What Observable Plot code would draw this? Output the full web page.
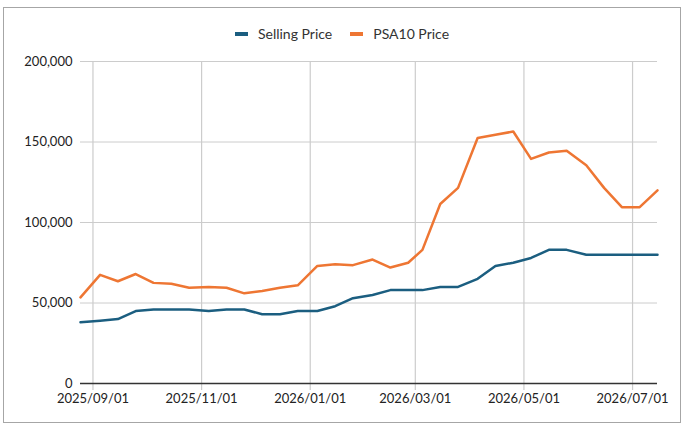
<!DOCTYPE html>
<html>
<head>
<meta charset="utf-8">
<script src="https://cdn.jsdelivr.net/npm/d3@7"></script>
<script src="https://cdn.jsdelivr.net/npm/@observablehq/plot@0.6"></script>
<style>
  html, body { margin: 0; padding: 0; background: #fff; }
  body { width: 684px; height: 427px; position: relative; overflow: hidden; font-family: Lato, "Noto Sans", sans-serif; }
  #frame { position: absolute; left: 3px; top: 7px; width: 678px; height: 416px; border: 1px solid #a6a6a6; box-sizing: border-box; }
  #legend { position: absolute; left: 0; top: 24px; width: 684px; text-align: center; font-size: 14px; color: #333; line-height: 20px; z-index: 2; }
  #legend span.item { display: inline-block; margin: 0 9px; }
  #legend span.sw { display: inline-block; width: 13px; height: 4px; vertical-align: middle; margin-right: 10px; position: relative; top: -1px; }
  #chart { position: absolute; left: 0; top: 0; z-index: 1; }
</style>
</head>
<body>
<div id="frame"></div>
<div id="legend"></div>
<div id="chart"></div>
<script>
const dates = [
  "2025-08-25","2025-09-05","2025-09-15","2025-09-25","2025-10-05","2025-10-15","2025-10-25",
  "2025-11-05","2025-11-15","2025-11-25","2025-12-05","2025-12-15","2025-12-25",
  "2026-01-05","2026-01-15","2026-01-25","2026-02-05","2026-02-15","2026-02-25",
  "2026-03-05","2026-03-15","2026-03-25","2026-04-05","2026-04-15","2026-04-25",
  "2026-05-05","2026-05-15","2026-05-25","2026-06-05","2026-06-15","2026-06-25",
  "2026-07-05","2026-07-15"
];
const sellingPrice = [
  38000, 39000, 40000, 45000, 46000, 46000, 46000,
  45000, 46000, 46000, 43000, 43000, 45000,
  45000, 48000, 53000, 55000, 58000, 58000,
  58000, 60000, 60000, 65000, 73000, 75000,
  78000, 83000, 83000, 80000, 80000, 80000,
  80000, 80000
];
const psa10Price = [
  53500, 67500, 63500, 68000, 62500, 62000, 59500,
  60000, 59500, 56000, 57500, 59500, 61000,
  73000, 74000, 73500, 77000, 72000, 75000,
  83000, 111500, 121500, 152500, 154500, 156500,
  139500, 143500, 144500, 135500, 121500, 109500,
  109500, 120000
];
const seriesNames = ["Selling Price", "PSA10 Price"];
const seriesColors = ["#1b5e80", "#ee7633"];
const xTicks = ["2025-09-01","2025-11-01","2026-01-01","2026-03-01","2026-05-01","2026-07-01"];
const yTicks = [0, 50000, 100000, 150000, 200000];

const parse = d3.utcParse("%Y-%m-%d");
const rows = [];
dates.forEach((d, i) => {
  rows.push({date: parse(d), value: sellingPrice[i], series: seriesNames[0]});
  rows.push({date: parse(d), value: psa10Price[i], series: seriesNames[1]});
});
const xTickDates = xTicks.map(parse);

const chart = Plot.plot({
  width: 684,
  height: 427,
  marginLeft: 80,
  marginRight: 27,
  marginTop: 61,
  marginBottom: 44,
  style: {fontFamily: "Lato, 'Noto Sans', sans-serif", fontSize: "13px", color: "#333", background: "transparent"},
  x: {type: "utc", domain: [parse(dates[0]), parse(dates[dates.length - 1])]},
  y: {domain: [0, 200000]},
  color: {domain: seriesNames, range: seriesColors},
  marks: [
    Plot.ruleY(yTicks.filter(v => v > 0), {stroke: "#cccccc", strokeWidth: 1, strokeOpacity: 1}),
    Plot.ruleX(xTickDates, {y1: 0, y2: 200000, stroke: "#cccccc", strokeWidth: 1.2, strokeOpacity: 1}),
    Plot.axisX({ticks: xTickDates, tickFormat: d3.utcFormat("%Y/%m/%d"), tickSize: 7, tickPadding: 3, stroke: "#cccccc", strokeWidth: 1.2, strokeOpacity: 1, label: null, fill: "#222", fontSize: 13}),
    Plot.axisY({ticks: yTicks, tickFormat: d3.format(","), tickSize: 0, tickPadding: 8, label: null, fill: "#222", fontSize: 13}),
    Plot.line(rows, {x: "date", y: "value", z: "series", stroke: "series", strokeWidth: 2.5, curve: "linear"}),
    Plot.ruleY([0], {stroke: "#333333", strokeWidth: 1.5})
  ]
});
document.getElementById("chart").appendChild(chart);

const legend = document.getElementById("legend");
seriesNames.forEach((name, i) => {
  const item = document.createElement("span");
  item.className = "item";
  const sw = document.createElement("span");
  sw.className = "sw";
  sw.style.background = seriesColors[i];
  item.appendChild(sw);
  item.appendChild(document.createTextNode(name));
  legend.appendChild(item);
});
</script>
</body>
</html>
